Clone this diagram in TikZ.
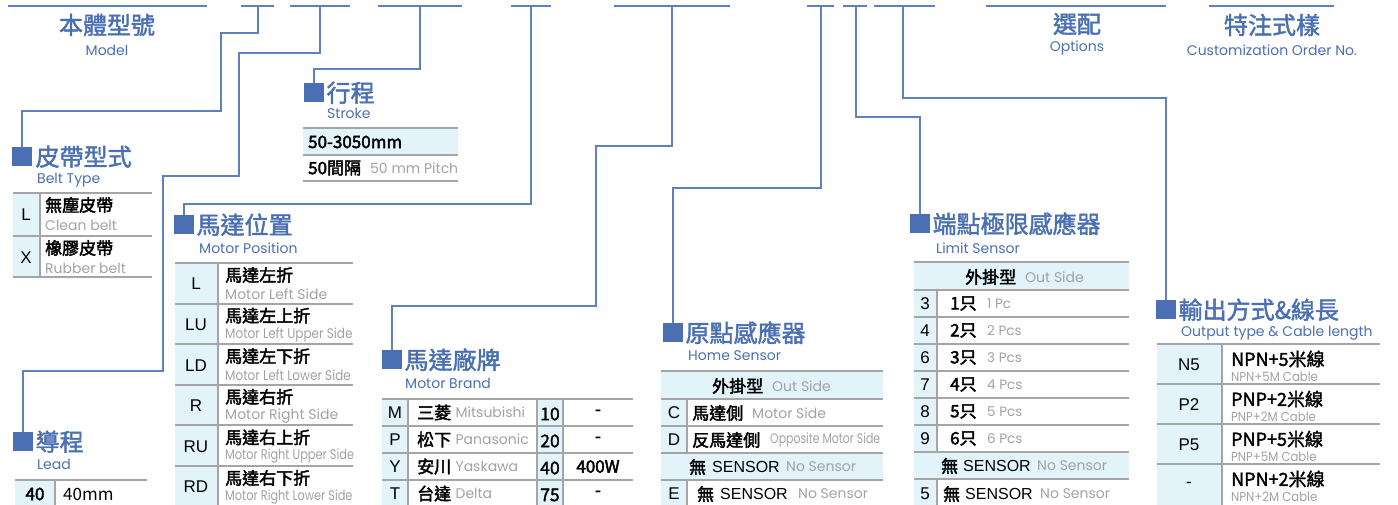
\documentclass[tikz,border=0pt]{standalone}
\usepackage{fontspec}
\setmainfont{Noto Sans CJK TC}
\newfontfamily\zhbold[FakeBold=2.4]{Noto Sans CJK TC}
\newfontfamily\zhmed[FakeBold=1.8]{Noto Sans CJK TC}
\newfontfamily\enfont{Poppins}
\newfontfamily\codefont{Liberation Sans}
\usetikzlibrary{positioning}
\definecolor{titleblue}{HTML}{4A6FB2}
\definecolor{lineblue}{HTML}{5F80BF}
\definecolor{cellblue}{HTML}{E2F3FA}
\definecolor{rulegrey}{HTML}{A5A5A5}
\definecolor{textgrey}{HTML}{A2A2A2}

\begin{document}
\begin{tikzpicture}[x=1pt,y=-1pt,
    hdr/.style={draw=lineblue,line width=1.5pt},
    conn/.style={draw=lineblue,line width=1.5pt},
    sqmark/.style={fill=titleblue,minimum width=20pt,minimum height=19pt,inner sep=0pt,anchor=north west},
    hdrttl/.style={inner sep=0pt,text=titleblue,font=\zhmed\fontsize{24}{24}\selectfont},
    hdrsub/.style={inner sep=0pt,text=titleblue,font=\enfont\fontsize{14}{14}\selectfont},
    ttl/.style={anchor=west,inner sep=0pt,text=titleblue,font=\zhmed\fontsize{24}{24}\selectfont},
    subttl/.style={anchor=west,inner sep=0pt,text=titleblue,font=\enfont\fontsize{14}{14}\selectfont},
    rowrule/.style={draw=rulegrey,line width=2pt},
    colrule/.style={draw=rulegrey,line width=1.5pt},
    codecell/.style={fill=cellblue},
    codetxt/.style={inner sep=0pt,font=\codefont\fontsize{17}{17}\selectfont},
    sensortxt/.style={anchor=west,inner sep=0pt,font=\codefont\fontsize{16}{16}\selectfont},
    zhtxt/.style={anchor=west,inner sep=0pt,font=\zhbold\fontsize{17}{17}\selectfont},
    entxt/.style={anchor=west,inner sep=0pt,text=textgrey,font=\enfont\fontsize{14}{14}\selectfont},
    smalltxt/.style={anchor=west,inner sep=0pt,text=textgrey,font=\enfont\fontsize{13}{13}\selectfont}]
  \useasboundingbox (0,0) rectangle (1398,504);

  % header bar
  \foreach \a/\b in {8/207,241/274,290/350,378/462,511/551,614/730,807/834,843/867,874/935,986/1166,1209/1334}
    \draw[hdr] (\a,6) -- (\b,6);
  \coordinate (tapBelt) at (258,6);
  \coordinate (tapLead) at (320,6);
  \coordinate (tapStroke) at (420,6);
  \coordinate (tapPos) at (531,6);
  \coordinate (tapBrand) at (672,6);
  \coordinate (tapHome) at (821,6);
  \coordinate (tapLimit) at (856,6);
  \coordinate (tapOut) at (903,6);

  \node[hdrttl] (model) at (107,25) {本體型號};
  \node[hdrsub] (modelen) at (107,50) {Model};
  \node[hdrttl] (opt) at (1077,24) {選配};
  \node[hdrsub] (opten) at (1077,48) {Options};
  \node[hdrttl] (cust) at (1272,25) {特注式樣};
  \node[hdrsub] (custen) at (1272,50) {Customization Order No.};

  % section markers and titles
  \node[sqmark] (beltsq) at (12,147) {};
  \node[ttl,right=3pt of beltsq] (belt) {皮帶型式};
  \node[subttl] (belten) at (37,180) {Belt Type};

  \node[sqmark] (strokesq) at (304,83) {};
  \node[ttl,right=2pt of strokesq] (stroke) {行程};
  \node[subttl] (strokeen) at (327,113) {Stroke};

  \node[sqmark] (leadsq) at (13,432) {};
  \node[ttl,right=2pt of leadsq] (lead) {導程};
  \node[subttl] (leaden) at (37,464) {Lead};

  \node[sqmark] (possq) at (174,215) {};
  \node[ttl,right=2pt of possq] (pos) {馬達位置};
  \node[subttl] (posen) at (199,248) {Motor Position};

  \node[sqmark] (brandsq) at (382,350) {};
  \node[ttl,right=2pt of brandsq] (brand) {馬達廠牌};
  \node[subttl] (branden) at (405,383) {Motor Brand};

  \node[sqmark] (homesq) at (663,323) {};
  \node[ttl,right=2pt of homesq] (home) {原點感應器};
  \node[subttl] (homeen) at (688,356) {Home Sensor};

  \node[sqmark] (limitsq) at (910,214) {};
  \node[ttl,right=2pt of limitsq] (limit) {端點極限感應器};
  \node[subttl] (limiten) at (936,248) {Limit Sensor};

  \node[sqmark] (outsq) at (1156,300) {};
  \node[ttl,right=2pt of outsq] (out) {輸出方式\&線長};
  \node[subttl] (outen) at (1181,333) {Output type \& Cable length};

  % connectors
  \draw[conn] (tapBelt) -- (258,33) -- (221,33) -- (221,111) -| (beltsq.north);
  \draw[conn] (tapLead) -- (320,53) -- (239,53) -- (239,176) -- (163,176) -- (163,371) -| (leadsq.north);
  \draw[conn] (tapStroke) -- (420,69) -| (strokesq.north);
  \draw[conn] (tapPos) -- (531,204) -| (possq.north);
  \draw[conn] (tapBrand) -- (672,146) -- (596,146) -- (596,306) -| (brandsq.north);
  \draw[conn] (tapHome) -- (821,188) -| (homesq.north);
  \draw[conn] (tapLimit) -- (856,117) -| (limitsq.north);
  \draw[conn] (tapOut) -- (903,98) -| (outsq.north);

  % belt type
  \fill[codecell] (13,193) rectangle (40,277);
  \foreach \y in {193,236,277} \draw[rowrule] (13,\y) -- (152,\y);
  \draw[colrule] (40,193) -- (40,277);
  \foreach \c/\zh/\en/\y in {L/無塵皮帶/Clean belt/193,X/橡膠皮帶/Rubber belt/236} {
    \node[codetxt] (belt-\c) at (26,\y+22) {\c};
    \node[zhtxt] (beltzh-\c) at (45,\y+12) {\zh};
    \node[entxt] (belten-\c) at (45,\y+32) {\en};
  }

  % stroke
  \fill[codecell] (303,128) rectangle (458,155);
  \foreach \y in {128,155,181} \draw[rowrule] (303,\y) -- (458,\y);
  \node[zhtxt] (range) at (308,142) {50-3050mm};
  \node[zhtxt] (pitch) at (308,168) {50間隔};
  \node[entxt] (pitchen) at (370,168) {50 mm Pitch};

  % lead
  \fill[codecell] (15,480) rectangle (55,510);
  \draw[rowrule] (15,480) -- (147,480);
  \draw[colrule] (55,480) -- (55,510);
  \node[zhtxt,anchor=center] (lead40) at (35,494) {40};
  \node[zhtxt,font=\fontsize{17}{17}\selectfont] (lead40mm) at (63,494) {40mm};

  % motor position
  \fill[codecell] (175,263) rectangle (218,510);
  \foreach \y in {263,303.6,344.2,384.8,425.4,466} \draw[rowrule] (175,\y) -- (353,\y);
  \draw[colrule] (218,263) -- (218,510);
  \foreach \c/\zh/\en/\s [count=\i from 0] in {L/馬達左折/Motor Left Side/1,LU/馬達左上折/Motor Left Upper Side/0.86,LD/馬達左下折/Motor Left Lower Side/0.86,R/馬達右折/Motor Right Side/1,RU/馬達右上折/Motor Right Upper Side/0.81,RD/馬達右下折/Motor Right Lower Side/0.81} {
    \node[codetxt] (pos-\c) at (196,263+40.6*\i+21) {\c};
    \node[zhtxt] (poszh-\c) at (225,263+40.6*\i+12) {\zh};
    \node[entxt] (posen-\c) at (225,263+40.6*\i+31) {\scalebox{\s}[1]{\en}};
  }

  % motor brand
  \fill[codecell] (382,399) rectangle (408,510);
  \fill[codecell] (537,399) rectangle (563,510);
  \foreach \y in {399,426,453,480} \draw[rowrule] (382,\y) -- (633,\y);
  \foreach \x in {408,537,563} \draw[colrule] (\x,399) -- (\x,510);
  \foreach \c/\zh/\en/\w/\p [count=\i from 0] in {M/三菱/Mitsubishi/10/-,P/松下/Panasonic/20/-,Y/安川/Yaskawa/40/400W,T/台達/Delta/75/-} {
    \node[codetxt] (brand-\c) at (395,399+27*\i+13.5) {\c};
    \node[zhtxt] (brandzh-\c) at (417,399+27*\i+13.5) {\zh};
    \node[entxt,right=4pt of brandzh-\c] (branden-\c) {\en};
    \node[zhtxt,anchor=center,font=\zhmed\fontsize{17.5}{17.5}\selectfont] (watt-\c) at (550,399+27*\i+15) {\w};
    \node[zhtxt,anchor=center] (power-\c) at (598,399+27*\i+13.5) {\p};
  }

  % home sensor
  \fill[codecell] (661,371) rectangle (687,510);
  \fill[codecell] (661,371) rectangle (883,399);
  \fill[codecell] (661,453) rectangle (883,480);
  \foreach \y in {371,399,426,453,480} \draw[rowrule] (661,\y) -- (883,\y);
  \draw[colrule] (687,399) -- (687,453);
  \draw[colrule] (687,480) -- (687,510);
  \node[zhtxt] (homeout) at (712,386) {外掛型};
  \node[entxt] (homeouten) at (772,386) {Out Side};
  \node[codetxt] (home-C) at (674,413) {C};
  \node[zhtxt] (homezh-C) at (692,413) {馬達側};
  \node[entxt] (homeen-C) at (752,413) {Motor Side};
  \node[codetxt] (home-D) at (674,440) {D};
  \node[zhtxt] (homezh-D) at (692,440) {反馬達側};
  \node[entxt] (homeen-D) at (770,440) {\scalebox{0.78}[1]{Opposite Motor Side}};
  \node[zhtxt] (homenone) at (689,467) {無};
  \node[sensortxt] (homenonesn) at (712,467) {SENSOR};
  \node[entxt] (homenoneen) at (786,467) {No Sensor};
  \node[codetxt] (home-E) at (674,494) {E};
  \node[zhtxt] (homezh-E) at (697,494) {無};
  \node[sensortxt] (homesn-E) at (720,494) {SENSOR};
  \node[entxt] (homeen-E) at (798,494) {No Sensor};

  % limit sensor
  \fill[codecell] (914,262) rectangle (937,510);
  \fill[codecell] (914,262) rectangle (1129,290);
  \fill[codecell] (914,452) rectangle (1129,479);
  \foreach \y in {262,290,317,344,371,398,425,452,479} \draw[rowrule] (914,\y) -- (1129,\y);
  \draw[colrule] (937,290) -- (937,452);
  \draw[colrule] (937,479) -- (937,510);
  \node[zhtxt] (limitout) at (965,277) {外掛型};
  \node[entxt] (limitouten) at (1025,277) {Out Side};
  \foreach \c/\n/\pc [count=\i from 0] in {3/1/Pc,4/2/Pcs,6/3/Pcs,7/4/Pcs,8/5/Pcs,9/6/Pcs} {
    \node[codetxt] (limit-\c) at (925,290+27*\i+14) {\c};
    \node[zhtxt] (limitzh-\c) at (950,290+27*\i+13.5) {{\n}只};
    \node[entxt,font=\enfont\fontsize{13.5}{13.5}\selectfont] (limiten-\c) at (987,290+27*\i+14) {{\n}~\pc};
  }
  \node[zhtxt] (limitnone) at (941,466) {無};
  \node[sensortxt] (limitnonesn) at (963,466) {SENSOR};
  \node[entxt] (limitnoneen) at (1037,466) {No Sensor};
  \node[codetxt] (limit-5) at (925,494) {5};
  \node[zhtxt] (limitzh-5) at (943,494) {無};
  \node[sensortxt] (limitsn-5) at (965,494) {SENSOR};
  \node[entxt] (limiten-5) at (1040,494) {No Sensor};

  % output type
  \fill[codecell] (1157,344) rectangle (1222,510);
  \foreach \y in {344,384,424,464} \draw[rowrule] (1157,\y) -- (1380,\y);
  \draw[colrule] (1222,344) -- (1222,510);
  \foreach \c/\zh/\en [count=\i from 0] in {N5/NPN+5米線/NPN+5M Cable,P2/PNP+2米線/PNP+2M Cable,P5/PNP+5米線/PNP+5M Cable,-/NPN+2米線/NPN+2M Cable} {
    \node[codetxt] (out-\i) at (1189,344+40*\i+21) {\c};
    \node[zhtxt,font=\zhmed\fontsize{18}{18}\selectfont] (outzh-\i) at (1231,344+40*\i+15) {\zh};
    \node[smalltxt] (outen-\i) at (1231,344+40*\i+33) {\scalebox{0.9}[1]{\en}};
  }
\end{tikzpicture}
\end{document}
